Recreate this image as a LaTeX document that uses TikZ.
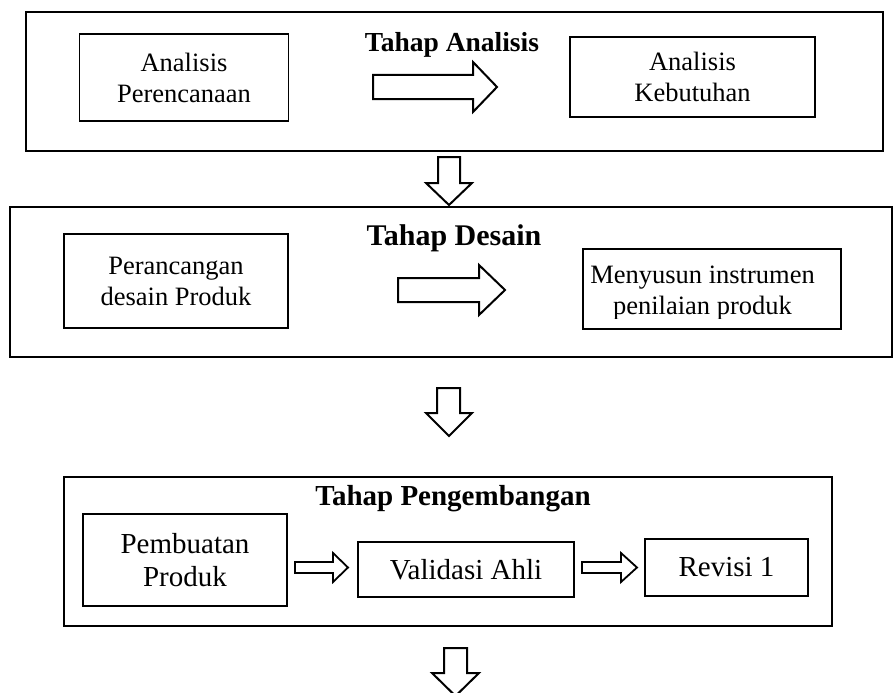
\documentclass[tikz,border=0pt]{standalone}
\usepackage{fontspec}
\setmainfont{Liberation Serif}
\begin{document}
\begin{tikzpicture}[x=1pt,y=-1pt,
  frame/.style={draw, line width=1.8pt, inner sep=0pt, outer sep=0pt},
  stepbox/.style={draw, line width=1.6pt, inner sep=0pt, outer sep=0pt, align=center},
  txta/.style={font=\fontsize{26.5}{31}\selectfont},
  txtb/.style={font=\fontsize{29}{33}\selectfont},
  ttl/.style={font=\bfseries, anchor=base},
  blk/.style={draw, line width=2pt, fill=white, line join=miter}]
\useasboundingbox (0,0) rectangle (894,693);

% ---------- Tahap Analisis ----------
\node[frame, minimum width=857pt, minimum height=139pt] (b1) at (454.5,81.5) {};
\node[ttl, font=\fontsize{27.5}{30}\selectfont\bfseries] (t1) at (452,52) {Tahap Analisis};
\node[stepbox, txta, minimum width=209pt, minimum height=87pt] (l1) at (184,77.5) {Analisis\\Perencanaan};
\node[stepbox, txta, minimum width=245pt, minimum height=80pt] (r1) at (692.5,77) {Analisis\\Kebutuhan};
\draw[blk] (373,75) -- (473,75) -- (473,62) -- (497,87) -- (473,112) -- (473,99) -- (373,99) -- cycle;

% down arrow 1
\draw[blk] (438,157) -- (460,157) -- (460,183) -- (472,183) -- (449,205) -- (426,183) -- (438,183) -- cycle;

% ---------- Tahap Desain ----------
\node[frame, minimum width=882pt, minimum height=150pt] (b2) at (451,282) {};
\node[ttl, font=\fontsize{30}{32}\selectfont\bfseries] (t2) at (454,245) {Tahap Desain};
\node[stepbox, txta, minimum width=224pt, minimum height=94pt] (l2) at (176,281) {Perancangan\\desain Produk};
\node[stepbox, minimum width=258pt, minimum height=80pt] (r2) at (712,289) {};
\begin{scope}
  \clip (583,249) rectangle (841,318);
  \node[txta, align=center, anchor=base] (r2t) at (702.5,314) {Menyusun instrumen\\penilaian produk};
\end{scope}
\draw[blk] (398,278) -- (479,278) -- (479,265) -- (505,290) -- (479,315) -- (479,302) -- (398,302) -- cycle;

% down arrow 2
\draw[blk] (437,388) -- (460,388) -- (460,413) -- (472,413) -- (449,436) -- (426,413) -- (437,413) -- cycle;

% ---------- Tahap Pengembangan ----------
\node[frame, minimum width=768pt, minimum height=149pt] (b3) at (448,551.5) {};
\node[ttl, font=\fontsize{29}{32}\selectfont\bfseries] (t3) at (453,505) {Tahap Pengembangan};
\node[stepbox, txtb, minimum width=204pt, minimum height=92pt] (p3) at (185,560) {Pembuatan\\Produk};
\node[stepbox, txtb, minimum width=216pt, minimum height=55pt] (v3) at (466,569.5) {Validasi Ahli};
\node[stepbox, txtb, minimum width=163pt, minimum height=57pt] (rv) at (726.5,567.5) {Revisi 1};
\draw[blk, line width=1.8pt] (295,562) -- (333,562) -- (333,553) -- (348,567.5) -- (333,582) -- (333,573) -- (295,573) -- cycle;
\draw[blk, line width=1.8pt] (582,562) -- (621,562) -- (621,553) -- (637,567.5) -- (621,582) -- (621,573) -- (582,573) -- cycle;

% down arrow 3
\draw[blk] (444,648) -- (467,648) -- (467,673) -- (479,673) -- (455.5,696) -- (432,673) -- (444,673) -- cycle;
\end{tikzpicture}
\end{document}
